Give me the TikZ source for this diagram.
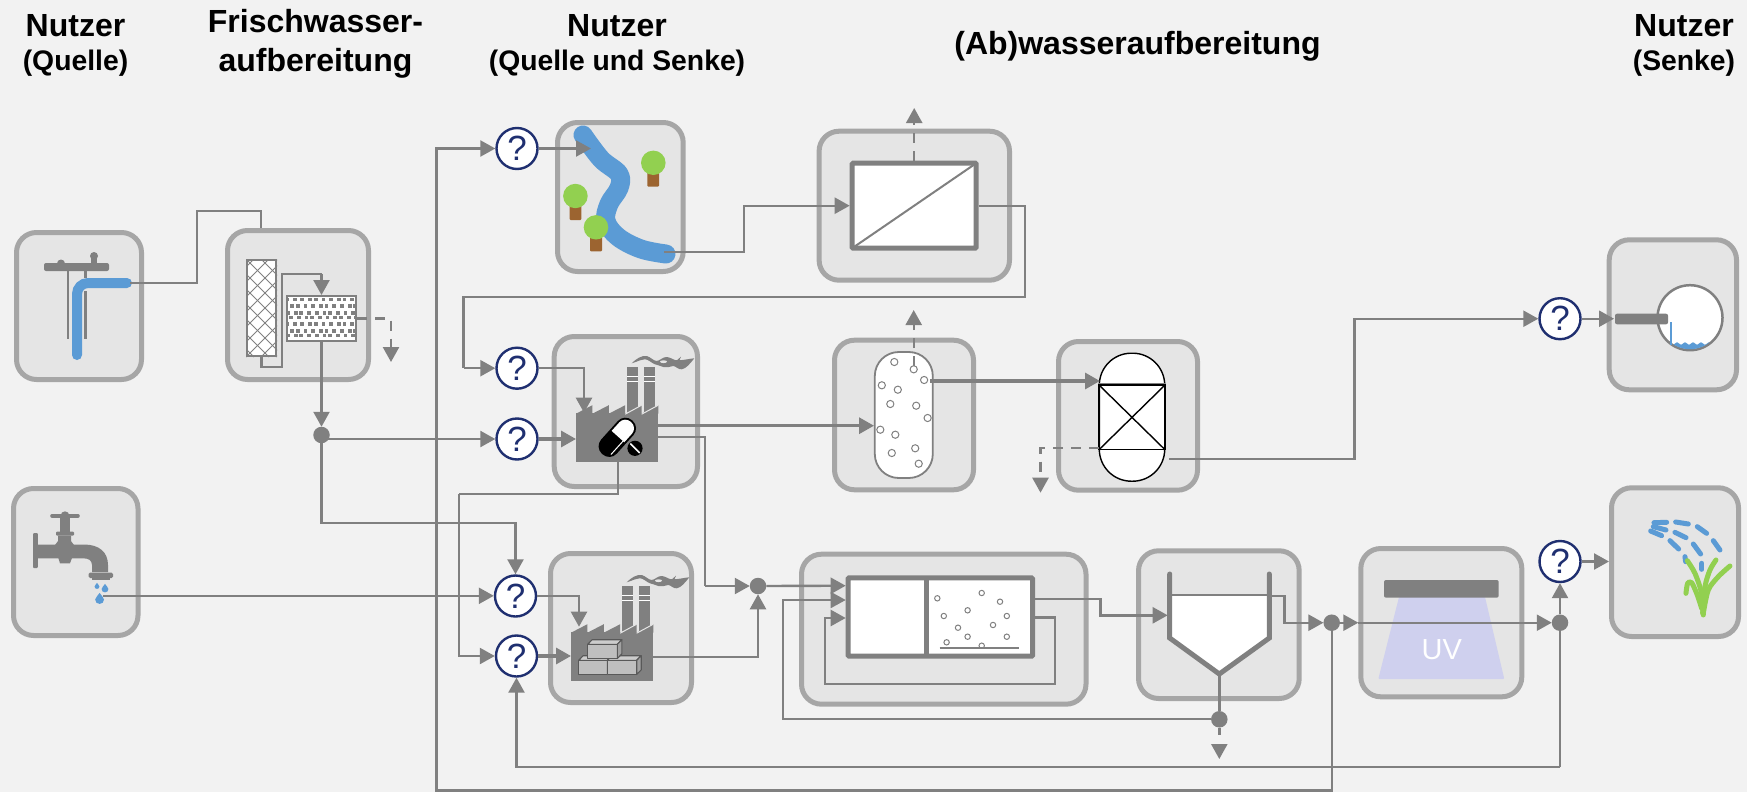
\documentclass[tikz,border=0pt]{standalone}
\usepackage{fontspec}
\setmainfont{Liberation Sans}
\usetikzlibrary{arrows.meta,calc}
\definecolor{bgc}{HTML}{F2F2F2}
\definecolor{boxf}{HTML}{E5E5E5}
\definecolor{boxs}{HTML}{A6A6A6}
\definecolor{linec}{HTML}{808080}
\definecolor{bluew}{HTML}{5B9BD5}
\definecolor{greenp}{HTML}{92D050}
\definecolor{brownp}{HTML}{9C6430}
\definecolor{navyq}{HTML}{1F2F70}
\definecolor{uvc}{HTML}{CFD0EE}
\definecolor{brick}{HTML}{BFBFBF}
\tikzset{
  unitbox/.style={draw=boxs,fill=boxf,line width=5pt,rounded corners=20pt,inner sep=0pt,outer sep=0pt},
  quest/.style={circle,draw=navyq,fill=white,line width=2.4pt,minimum size=41pt,inner sep=0pt,text=navyq,font=\fontsize{35}{35}\selectfont},
  junc/.style={circle,fill=linec,minimum size=16.5pt,inner sep=0pt,outer sep=0pt},
  flow/.style={draw=linec,line width=2.4pt,line join=miter},
  tip/.style={-{Triangle[length=15pt,width=16pt]}},
  arrowflow/.style={flow,tip},
  thickflow/.style={arrowflow,line width=3.2pt},
  thinflow/.style={flow,line width=1.8pt},
  waste/.style={arrowflow,dash pattern=on 10pt off 8pt},
  head/.style={font=\fontsize{32}{36}\selectfont\bfseries,inner sep=0pt,text=black},
  sub/.style={font=\fontsize{28.3}{33}\selectfont\bfseries,inner sep=0pt,text=black},
  vessel/.style={draw=linec,fill=white,line width=5pt,inner sep=0pt,outer sep=2.5pt,rounded corners=1pt},
  filt/.style={draw=linec,fill=white,line width=2pt,inner sep=0pt,outer sep=1pt},
  bub/.style={draw=linec,fill=white,line width=1pt},
  drp/.style={line cap=round,line width=5pt,draw=bluew},
  blade/.style={line cap=round,line join=round,line width=5pt,draw=greenp},
}
\newcommand{\ubox}[5]{\node[unitbox,minimum width={(#4-#2-5)*1pt},minimum height={(#5-#3-5)*1pt}] (#1) at ({(#2+#4)/2},{(#3+#5)/2}) {};}
\newcommand{\waterdrop}[3]{\fill[bluew,shift={(#1,#2)}] (0,-#3*1.5) .. controls (#3*.3,-#3*.9) and (#3,-#3*.5) .. (#3,0) .. controls (#3,#3*.6) and (#3*.6,#3) .. (0,#3) .. controls (-#3*.6,#3) and (-#3,#3*.6) .. (-#3,0) .. controls (-#3,-#3*.5) and (-#3*.3,-#3*.9) .. (0,-#3*1.5) -- cycle;}
\newcommand{\facicon}[3]{%
  \node[fill=linec,minimum width=82.3pt,minimum height=48.7pt,inner sep=0pt,outer sep=0pt] (#3) at ({#1+41.15},{#2-24.35}) {};
  \begin{scope}[shift={(#1,#2)}]
    \fill[linec] (51,-94.7) rectangle (62,-50);
    \fill[linec] (67.7,-94.7) rectangle (78.7,-50);
    \draw[white,line width=.9pt] (51,-85) -- (62,-85) (51,-80.7) -- (62,-80.7) (67.7,-85) -- (78.7,-85) (67.7,-80.7) -- (78.7,-80.7);
    \fill[linec] (0,-48) -- (16.4,-56.5) -- (16.4,-48) -- (32.8,-56.5) -- (32.8,-48) -- (49.2,-56.5) -- (49.2,-48) -- (65.6,-56.5) -- (65.6,-48) -- (82.3,-56.5) -- (82.3,-48) -- cycle;
    \draw[boxf,line width=1pt] (49.2,-47.5) -- (65.6,-56.5) (65.6,-47.5) -- (82.3,-56.5);
    \fill[linec] (55.7,-98.4) .. controls (60,-103) and (66,-106.5) .. (70.7,-105.7) .. controls (75,-104.5) and (77,-101) .. (80.7,-100.7) .. controls (84,-101) and (87,-105) .. (90.7,-104.7) .. controls (95,-104.5) and (98,-101) .. (101,-101.5) -- (105,-105) -- (103.5,-101.5) .. controls (108,-101.5) and (113,-103) .. (118.3,-103.4) .. controls (114,-98) and (110,-93) .. (105.7,-92.4) .. controls (102,-92) and (100,-95.5) .. (97.3,-95.7) .. controls (93,-95) and (91,-93.5) .. (87.3,-94.7) .. controls (84,-95.5) and (82,-97) .. (79,-97.4) .. controls (75,-99) and (72,-102.5) .. (69,-102.4) .. controls (64,-102) and (60,-99.5) .. (55.7,-98.4) -- cycle;
    \fill[boxf] (87.5,-100) ellipse (3.5 and 1.4);
  \end{scope}}
\newcommand{\brickbox}[3]{% front left x, front top y, width
  \filldraw[fill=brick,draw=black!65,line width=1.1pt,line join=round] (#1,#2) rectangle ({#1+#3},{#2+14.2});
  \filldraw[fill=brick!80!white,draw=black!65,line width=1.1pt,line join=round] (#1,#2) -- ({#1+4.5},{#2-4.6}) -- ({#1+#3+4.5},{#2-4.6}) -- ({#1+#3},#2) -- cycle;
  \filldraw[fill=brick!85!black,draw=black!65,line width=1.1pt,line join=round] ({#1+#3},#2) -- ({#1+#3+4.5},{#2-4.6}) -- ({#1+#3+4.5},{#2+9.6}) -- ({#1+#3},{#2+14.2}) -- cycle;}
\begin{document}
\begin{tikzpicture}[x=1pt,y=-1pt]
\useasboundingbox (0,0) rectangle (1747,792);
\fill[bgc] (0,0) rectangle (1747,792);

% ---- headings
\node[head] (h1) at (75.5,26) {Nutzer};
\node[sub]  (h1b) at (75.5,63) {(Quelle)};
\node[head] (h2) at (315.5,21) {Frischwasser-};
\node[head] (h2b) at (315.5,63) {aufbereitung};
\node[head] (h3) at (617,26) {Nutzer};
\node[sub]  (h3b) at (617,63) {(Quelle und Senke)};
\node[head] (h4) at (1137.5,46) {(Ab)wasseraufbereitung};
\node[head] (h5) at (1684,26) {Nutzer};
\node[sub]  (h5b) at (1684,63) {(Senke)};

% ---- unit boxes
\ubox{pump}{14}{230}{144}{382}
\ubox{fresh}{225}{228}{371}{382}
\ubox{tap}{11}{486}{140.5}{638}
\ubox{river}{555}{120}{685.7}{274}
\ubox{memb}{816.6}{128.7}{1012}{282.7}
\ubox{pharma}{551.7}{334}{700}{489}
\ubox{bio}{832}{337.7}{976}{492.3}
\ubox{adsorb}{1056}{339}{1200}{492.7}
\ubox{indust}{548}{551}{694}{705}
\ubox{mbr}{799}{551.7}{1088.5}{706.7}
\ubox{clar}{1136}{548.3}{1301.7}{701}
\ubox{uv}{1358.3}{546}{1524.3}{699.3}
\ubox{sink}{1606.7}{237.3}{1739}{392.3}
\ubox{irrig}{1609}{485.3}{1741}{639}

% ---- hand pump icon
\fill[linec,rounded corners=2pt] (44,263) rectangle (109,271);
\fill[linec] (61,263.5) circle (4);
\fill[linec] (94,256) circle (4);
\fill[linec] (91,256) rectangle (97,264);
\draw[linec,line width=2.6pt] (68,270) -- (68,339);
\draw[linec,line width=2.6pt] (85.3,270) -- (85.3,278) (85.3,291) -- (85.3,339);
\draw[bluew,line width=10pt,rounded corners=11pt,line cap=round] (77,355) -- (77,283) -- (127,283);
\coordinate (pumpout) at (130,283);

% ---- fresh water filters
\node[filt,minimum width=29pt,minimum height=96pt] (filtera) at (261.5,308) {};
\begin{scope}
  \clip (246,259) rectangle (277,357);
  \foreach \o in {-105,-90,...,135} {
    \draw[linec,line width=1pt] (246+\o,259) -- (344+\o,357);
    \draw[linec,line width=1pt] (246+\o,357) -- (344+\o,259);
  }
\end{scope}
\draw[linec,line width=2pt] (247,260) rectangle (276,356);
\node[filt,minimum width=69pt,minimum height=45pt] (filterb) at (321.5,318.5) {};
\begin{scope}
  \clip (288,297) rectangle (355,340);
  \foreach \r in {0,...,7} {
    \foreach \c in {0,...,10} {
      \pgfmathsetmacro{\px}{285+\c*7.2+mod(\r,2)*3.6+mod(\r*3+\c*5,4)*.5}
      \pgfmathsetmacro{\py}{297.5+\r*6+mod(\c*3+\r,3)*.8}
      \fill[linec] (\px,\py) rectangle (\px+3.8,\py+3.8);
    }
  }
\end{scope}

% ---- tap icon
\fill[linec,rounded corners=1pt] (33,533) rectangle (37.8,568);
\fill[linec] (36,544.5) -- (84,544.5) .. controls (99,544.5) and (108,552) .. (108,565) -- (108,572) -- (92,572) -- (92,565) .. controls (92,560) and (88,558.3) .. (83,558.3) -- (36,558.3) -- cycle;
\fill[linec] (60,518) rectangle (70,532);
\fill[linec,rounded corners=1pt] (56,531.5) rectangle (74,535.5);
\fill[linec] (58,535.5) -- (71,535.5) -- (71,541) -- (74,545) -- (55,545) -- (58,541) -- cycle;
\fill[linec] (58.3,558) -- (72,558) -- (70,563.3) -- (60,563.3) -- cycle;
\draw[linec,line width=3.6pt,line cap=round] (52,515.7) -- (78,515.7);
\fill[linec] (65,515.7) circle (4.4);
\fill[linec,rounded corners=1.5pt] (88.6,572.5) rectangle (113,578);
\fill[linec] (92,578) rectangle (110,580);
\waterdrop{97}{586.5}{2.4}
\waterdrop{105}{589}{3.4}
\waterdrop{99.6}{599.5}{4.4}
\coordinate (tapout) at (103,595.8);

% ---- river icon
\draw[bluew,line width=19pt,line cap=round,line join=round] plot[smooth,tension=.6] coordinates {(583,135) (601,159) (619,174) (619,188) (609,204) (606,221) (618,237) (641,249) (666,254)};
\fill[brownp,rounded corners=1pt] (647.4,172) rectangle (659,186.7);
\fill[greenp] (653.3,162.8) ellipse (12.3 and 12.2);
\fill[brownp,rounded corners=1pt] (569.5,205) rectangle (581.3,220);
\fill[greenp] (575.4,196) ellipse (12.3 and 12.2);
\fill[brownp,rounded corners=1pt] (590,237) rectangle (602,251.3);
\fill[greenp] (596,227.3) ellipse (12.3 and 12.2);
\coordinate (riverin) at (591,148.5);
\coordinate (riverout) at (664.4,252);

% ---- membrane
\node[vessel,minimum width=124pt,minimum height=85pt] (membrane) at (914.2,205.7) {};
\draw[linec,line width=2pt] ($(membrane.south west)+(2.5,-2.5)$) -- ($(membrane.north east)+(-2.5,2.5)$);

% ---- factories
\facicon{576}{461.7}{facpharma}
\facicon{571}{680.7}{facbrick}
% pills
\begin{scope}[shift={(617.3,437.3)},rotate=48]
  \fill[black,rounded corners=10pt] (-22.5,-10.5) rectangle (22.5,10.5);
  \begin{scope}
    \clip (1,-12) rectangle (24,12);
    \fill[white,rounded corners=8pt] (-20.5,-8.5) rectangle (20.5,8.5);
  \end{scope}
  \draw[white,line width=1pt] (-17,6.8) -- (1,6.8);
\end{scope}
\fill[black] (635,448.3) circle (7.6);
\draw[white,line width=1.5pt] (630.3,443.6) -- (639.7,453);
% bricks
\brickbox{578.7}{660.3}{28.7}
\brickbox{607.4}{660.3}{29.3}
\brickbox{587.7}{644.3}{29.6}

% ---- bubble column
\node[draw=linec,fill=white,line width=1.8pt,minimum width=58pt,minimum height=126pt,inner sep=0pt,outer sep=1pt,rounded corners=24pt] (biocol) at (903.8,415) {};
\foreach \bx/\by in {894.3/362,913.7/369.3,924.1/380,881.8/385.3,897.8/389.7,890.3/404,916.2/405.7,927.6/418,880.3/429.7,895.3/434.7,915.2/448.3,891.8/453,918.7/463.7}
  \draw[bub] (\bx,\by) circle (3.6);
\coordinate (bioin) at (874,425.7);
\coordinate (bioout) at (930,381);
\coordinate (biotop) at (913.7,366);
\coordinate (biogas) at (913.7,310);
\coordinate (mbrgas) at (914.2,108);

% ---- adsorption column
\node[draw=black,fill=white,line width=1.4pt,minimum width=65.4pt,minimum height=128pt,inner sep=0pt,outer sep=.7pt,rounded corners=32pt] (adscol) at (1132,417.2) {};
\draw[black,line width=1.4pt] (1099,385) rectangle (1165,449.7);
\draw[black,line width=1.4pt] (1099,385) -- (1165,449.7) (1099,449.7) -- (1165,385);
\draw[linec,line width=1pt] (1099,383.7) -- (1165,383.7);
\coordinate (adsin) at (1100,381);
\coordinate (adswaste) at (1098.8,448);
\coordinate (adsdown) at (1040.5,492.7);
\coordinate (adsout) at (1169,458.7);

% ---- MBR
\node[vessel,minimum width=184.3pt,minimum height=78.4pt] (mbrtank) at (940.35,617) {};
\draw[linec,line width=5pt] (926.6,577) -- (926.6,657);
\foreach \bx/\by in {937.3/598.3,981.7/593,1000/601.7,943.8/616,967.6/610.3,1006.8/616,958/627.7,993/625,967.6/636.7,1006.8/636.7,946.6/642.3,981.7/645.7}
  \draw[bub] (\bx,\by) circle (2.7);
\draw[linec,line width=2pt] (939.7,648) -- (1018.9,648);
\coordinate (mbrA) at (845.7,585.7);
\coordinate (mbrB) at (845.7,600);
\coordinate (mbrC) at (845.7,618);
\coordinate (mbrOutA) at (1035,599);
\coordinate (mbrOutB) at (1035,617.3);

% ---- clarifier
\fill[white] (1169.7,595) -- (1269.3,595) -- (1269.3,638) -- (1219.3,674) -- (1169.7,638) -- cycle;
\draw[linec,line width=2pt] (1169.7,595) -- (1269.3,595);
\draw[linec,line width=5pt,line cap=round,line join=miter] (1169.7,574) -- (1169.7,638) -- (1219.3,674) -- (1269.3,638) -- (1269.3,574);
\coordinate (clarin) at (1167.7,615.3);
\coordinate (clarout) at (1269.3,596);
\coordinate (clarbot) at (1219.3,674);

% ---- UV
\fill[uvc,rounded corners=1pt] (1399,597) -- (1485,597) -- (1504.3,679) -- (1378.3,679) -- cycle;
\fill[linec,rounded corners=2pt] (1384,580) rectangle (1498.7,597.7);
\node[text=white,inner sep=0pt,font=\fontsize{29}{30}\selectfont] (uvtxt) at (1441.7,650) {UV};

% ---- sink vessel
\node[circle,draw=linec,fill=white,line width=2.5pt,minimum size=65pt,inner sep=0pt] (sinkc) at (1690,317.7) {};
\begin{scope}
  \clip (1690,317.7) circle (31.5);
  \fill[bluew] plot[domain=1671:1716,samples=50] (\x,{343.5+1.1*sin((\x-1671)*45)}) -- (1716,352) -- (1671,352) -- cycle;
\end{scope}
\draw[bluew,line width=1.8pt] (1670.7,322) -- (1670.7,345);
\fill[linec,rounded corners=2pt] (1615,313.7) rectangle (1668,324.3);
\coordinate (sinkin) at (1614,318.7);

% ---- irrigation
\begin{scope}[shift={(1240,470)},x=.3333pt,y=-.3333pt]
  \draw[drp] (1242,158) -- (1280,157);
  \draw[drp] (1307,156) -- (1345,162);
  \draw[drp] (1372,170) -- (1400,190);
  \draw[drp] (1420,212) -- (1440,240);
  \draw[drp] (1240,170) -- (1278,180);
  \draw[drp] (1305,187) -- (1338,203);
  \draw[drp] (1360,222) -- (1382,252);
  \draw[drp] (1386,280) -- (1386,298);
  \draw[drp] (1232,183) -- (1265,197);
  \draw[drp] (1290,212) -- (1316,237);
  \draw[drp] (1335,260) -- (1337,275);
  \draw[blade] plot[smooth] coordinates {(1390,435) (1385,370) (1365,310) (1342,272)};
  \draw[blade] plot[smooth] coordinates {(1388,430) (1395,350) (1410,300) (1428,270)};
  \draw[blade] plot[smooth] coordinates {(1390,430) (1405,360) (1435,320) (1470,288)};
  \draw[blade] plot[smooth] coordinates {(1385,415) (1372,375) (1355,338) (1343,340) (1338,370)};
\end{scope}
\coordinate (irrin) at (1609,561.5);

% ---- question marks and junctions
\node[quest] (q1) at (517,148.5) {?};
\node[quest] (q4) at (517,368.2) {?};
\node[quest] (q5) at (517,439) {?};
\node[quest] (q2) at (515.5,596) {?};
\node[quest] (q3) at (516.5,656) {?};
\node[quest] (q6) at (1560,561.5) {?};
\node[quest] (q7) at (1560,318.7) {?};
\node[junc] (j1) at (321.5,435) {};
\node[junc] (j2) at (758,586) {};
\node[junc] (j3) at (1331.7,622.7) {};
\node[junc] (j5) at (1219.3,719.3) {};
\node[junc] (j6) at (1560,622.7) {};

% ---- way points
\coordinate (freshin) at (261,228);
\coordinate (w1) at (197,211);
\coordinate (w2) at (282,367);
\coordinate (w3) at (282,274);
\coordinate (wasteA) at (391,362);
\coordinate (w4) at (321.5,523);
\coordinate (w5) at (744,205.7);
\coordinate (w6) at (1025,297);
\coordinate (w7) at (463.5,368.2);
\coordinate (w8) at (459,494);
\coordinate (w9) at (705,586);
\coordinate (w10) at (436.5,790.5);
\coordinate (w11) at (436.5,148.5);
\coordinate (w12) at (1560,766.7);
\coordinate (w13) at (783,719.3);
\coordinate (w14) at (825,684);
\coordinate (w15) at (1054.7,684);
\coordinate (w16) at (1100.5,615.3);
\coordinate (w17) at (1284.3,622.7);
\coordinate (w18) at (1354.3,318.7);
\coordinate (facpin) at (584,412.7);
\coordinate (facbin) at (579,626.7);
\coordinate (facpdown) at (617.7,461.7);
\coordinate (facpout) at (658.3,437);
\coordinate (facpbio) at (658.3,425.7);
\coordinate (facbout) at (653.3,657);
\coordinate (j5down) at (1219.3,759);
\coordinate (uvleft) at (1358.3,622.7);

% ---- connectors
\draw[flow] (pumpout) -| (w1) -| (freshin);
\draw[flow] (filtera.south) |- (w2) -- (w3) -- (w3 -| filterb.north);
\draw[arrowflow] (w3 -| filterb.north) -- (filterb.north);
\draw[waste] (filterb.east) -| (wasteA);
\draw[arrowflow] (filterb.south) -- (j1.north);
\draw[arrowflow] (j1.center |- q5.west) -- (q5.west);
\draw[arrowflow] (j1.south) -- (w4) -| (q2.north);
\draw[arrowflow] (tapout) -- (q2.west |- tapout);
\draw[arrowflow] (j3.south) |- (w10) -- (w11) -- (q1.west);
\draw[arrowflow] (q1.east) -- (riverin);
\draw[arrowflow] (riverout) -| (w5) -- (membrane.west);
\draw[waste] (membrane.north) -- (mbrgas);
\draw[flow] (membrane.east) -| (w6) -| (w7);
\draw[arrowflow] (w7) -- (q4.west);
\draw[arrowflow] (q4.east) -| (facpin);
\draw[thickflow] (q5.east) -- (facpharma.west |- q5.east);
\draw[thickflow] (facpbio) -- (bioin);
\draw[flow] (facpdown) |- (w8);
\draw[arrowflow] (w8) |- (q3.west);
\draw[arrowflow] (q2.east) -| (facbin);
\draw[thickflow] (q3.east) -- (facbrick.west |- q3.east);
\draw[flow] (facpout) -| (w9);
\draw[arrowflow] (w9) -- (j2.west);
\draw[arrowflow] (facbout) -| (j2.south);
\draw[arrowflow] (j2.east) -- (mbrA);
\draw[thinflow,tip] (j5.west) -- (w13) |- (mbrB);
\draw[flow] (clarbot) -- (j5.north);
\draw[arrowflow,dash pattern=on 7pt off 30pt] (j5.south) -- (j5down);
\draw[arrowflow] (mbrOutB) -| (w15) -- (w14) |- (mbrC);
\draw[arrowflow] (mbrOutA) -| (w16) -- (clarin);
\draw[arrowflow] (clarout) -| (w17) -- (j3.west);
\draw[arrowflow] (j3.east) -- (uvleft);
\draw[arrowflow] (uvleft) -- (j6.west);
\draw[arrowflow] (j6.north) -- (q6.south);
\draw[flow] (j6.south) -- (w12);
\draw[arrowflow] (w12) -| (q3.south);
\draw[arrowflow] (q6.east) -- (irrin);
\draw[thickflow] (bioout) -- (adsin);
\draw[waste] (biotop) -- (biogas);
\draw[waste] (adswaste) -| (adsdown);
\draw[arrowflow] (adsout) -| (w18) -- (q7.west);
\draw[arrowflow] (q7.east) -- (sinkin);
\end{tikzpicture}
\end{document}
